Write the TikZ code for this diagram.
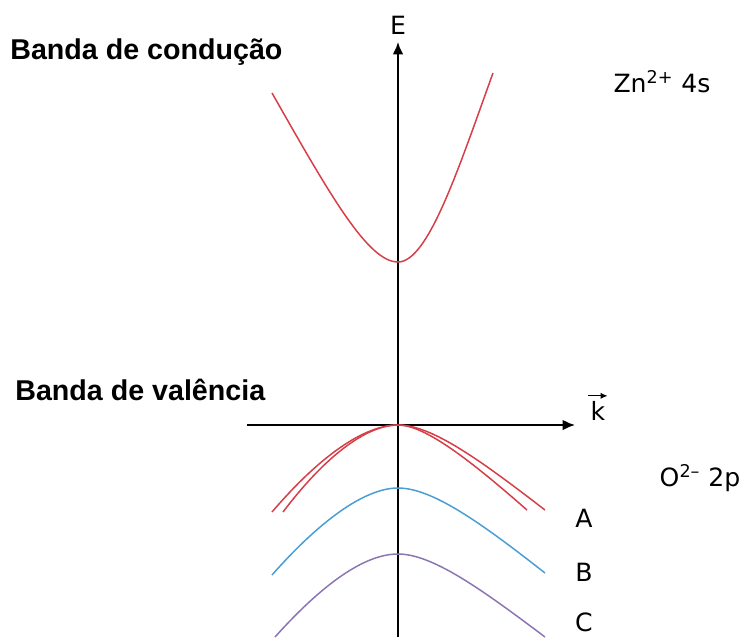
\documentclass[tikz,border=0pt]{standalone}
\usepackage{fontspec}
\setmainfont{DejaVu Sans}
\newfontfamily\titlefont{Liberation Sans}
\usetikzlibrary{arrows.meta,positioning}
\definecolor{BandRed}{RGB}{214,62,72}
\definecolor{BandBlue}{RGB}{74,158,212}
\definecolor{BandPurple}{RGB}{140,118,178}
\tikzset{
    axisline/.style={-{Latex[length=7pt,width=6pt]}, line width=1.1pt},
    band/.style={line width=0.85pt},
    bandtitle/.style={font=\titlefont\bfseries\fontsize{16.3}{18}\selectfont,
                      anchor=west, inner sep=0pt},
    bandtext/.style={font=\fontsize{14.3}{16}\selectfont, inner sep=0pt}
}
\begin{document}
\begin{tikzpicture}[x=0.02cm, y=-0.02cm]
    \useasboundingbox (0,0) rectangle (745,637);
    % Axes
    \coordinate (origin) at (398,425);
    \coordinate (ebot) at (398,637);
    \coordinate (etop) at (398,42);
    \coordinate (kleft) at (247,425);
    \coordinate (kright) at (575,425);
    \draw[axisline] (ebot) -- (etop);
    \draw[axisline] (kleft) -- (kright);
    \node[bandtext, above=4pt of etop] (elabel) {E};
    \node[bandtext] (klabel) at (598,411) {k};
    \draw[-{Latex[length=4pt,width=3.5pt]}, line width=0.7pt]
        ([xshift=-5.5pt,yshift=3pt]klabel.north) -- ([xshift=5.5pt,yshift=3pt]klabel.north);

    % Conduction band
    \draw[band, BandRed] (272,93) .. controls (330,195) and (368,262) .. (398,262)
        .. controls (428,262) and (458,170) .. (493,73);

    % Valence bands
    \draw[band, BandRed] (272,512) .. controls (325,450) and (368,425) .. (origin)
        .. controls (432,425) and (480,460) .. (545,510);
    \draw[band, BandRed] (283,512) .. controls (330,450) and (370,425) .. (origin)
        .. controls (425,425) and (470,460) .. (527,510);
    \draw[band, BandBlue] (272,575) .. controls (325,515) and (368,488) .. (398,488)
        .. controls (432,488) and (480,522) .. (545,573);
    \draw[band, BandPurple] (275,637) .. controls (328,578) and (368,554) .. (398,554)
        .. controls (432,554) and (480,588) .. (545,637);

    % Labels
    \node[bandtitle] (cond) at (10,52) {Banda de condução};
    \node[bandtitle] (val) at (15,390) {Banda de valência};
    \node[bandtext] (zn) at (662,82) {Zn\textsuperscript{2+} 4s};
    \node[bandtext] (ox) at (700,478) {O\textsuperscript{2–} 2p};
    \node[bandtext] (bandA) at (584,518) {A};
    \node[bandtext] (bandB) at (584,572) {B};
    \node[bandtext] (bandC) at (584,622) {C};
\end{tikzpicture}
\end{document}
